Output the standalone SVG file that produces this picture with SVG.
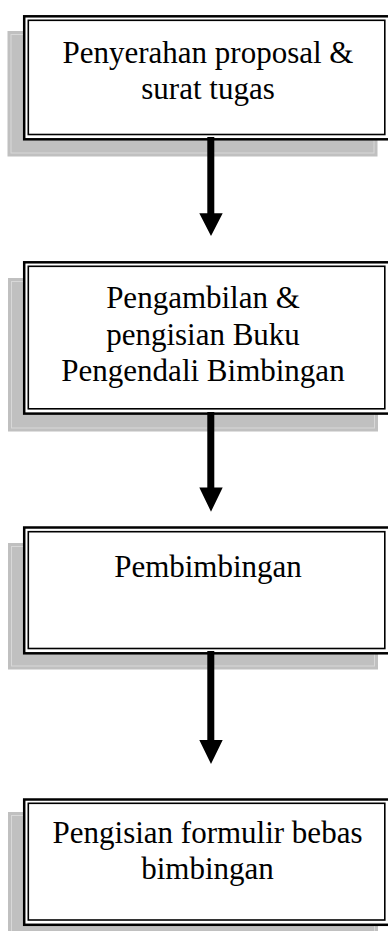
<svg xmlns="http://www.w3.org/2000/svg" width="388" height="931" viewBox="0 0 388 931">
<style>
.sh{fill:#c0c0c0;}
.shl{fill:none;stroke:#d8d8d8;stroke-width:1;}
.bo{fill:#ffffff;stroke:#000000;stroke-width:2.5;}
.bi{fill:none;stroke:#000000;stroke-width:1.6;}
.t{font-family:"Liberation Serif","Times New Roman",serif;font-size:31px;fill:#000000;text-anchor:middle;}
.ar{fill:#000000;}
</style>
<rect width="388" height="931" fill="#ffffff"/>
<g id="node1">
<rect class="sh" x="7.5" y="31" width="370" height="125.5"/>
<rect class="shl" x="11" y="34.5" width="363" height="118.5"/>
<rect class="bo" x="24.2" y="16.3" width="366.3" height="123"/>
<rect class="bi" x="28.3" y="20.3" width="356.5" height="114.2"/>
<text class="t" x="208" y="63">Penyerahan proposal &amp;</text>
<text class="t" x="208" y="99">surat tugas</text>
</g>
<g id="node2">
<rect class="sh" x="8" y="278" width="370" height="153.5"/>
<rect class="shl" x="11.5" y="281.5" width="363" height="146.5"/>
<rect class="bo" x="24.2" y="262.3" width="366.3" height="151.3"/>
<rect class="bi" x="28.3" y="266.3" width="356.5" height="142.5"/>
<text class="t" x="203" y="308">Pengambilan &amp;</text>
<text class="t" x="203" y="344.5">pengisian Buku</text>
<text class="t" x="203" y="381">Pengendali Bimbingan</text>
</g>
<g id="node3">
<rect class="sh" x="8" y="543" width="370" height="126.5"/>
<rect class="shl" x="11.5" y="546.5" width="363" height="119.5"/>
<rect class="bo" x="24.2" y="527.5" width="366.3" height="125.8"/>
<rect class="bi" x="28.3" y="531.7" width="356.5" height="116.8"/>
<text class="t" x="208" y="577">Pembimbingan</text>
</g>
<g id="node4">
<rect class="sh" x="8" y="812" width="370" height="130"/>
<rect class="shl" x="11.5" y="815.5" width="363" height="123"/>
<rect class="bo" x="24.2" y="799.5" width="366.3" height="125.3"/>
<rect class="bi" x="28.3" y="803.3" width="356.5" height="116.7"/>
<text class="t" x="207.5" y="843">Pengisian formulir bebas</text>
<text class="t" x="207.5" y="879">bimbingan</text>
</g>
<g id="connectors">
<path class="ar" d="M207.3,137 H214.3 V213.3 H222.7 L211,236 L199.3,213.3 H207.3 Z"/>
<path class="ar" d="M207.3,412 H214.3 V487.5 H222.7 L211,511.7 L199.3,487.5 H207.3 Z"/>
<path class="ar" d="M207.3,651 H214.3 V740 H222.7 L211,764 L199.3,740 H207.3 Z"/>
</g>
</svg>
